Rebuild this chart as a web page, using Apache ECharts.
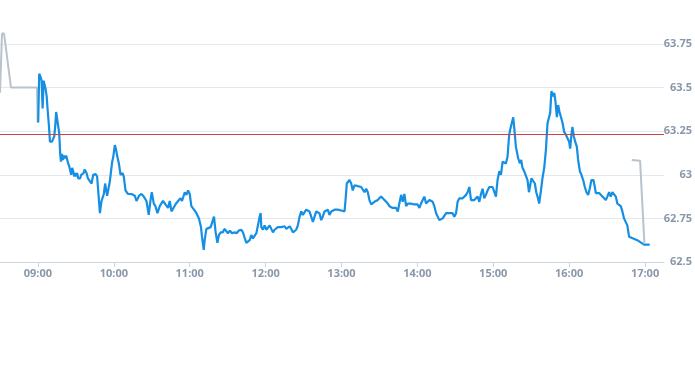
<!DOCTYPE html>
<html>
<head>
<meta charset="utf-8">
<script src="https://cdn.jsdelivr.net/npm/echarts@6/dist/echarts.min.js"></script>
<style>html,body{margin:0;padding:0;background:#fff}#c{width:695px;height:370px}</style>
</head>
<body>
<div id="c"></div>
<script>
// times are minutes since midnight
const preTimes = [510.0, 511.6, 513.2, 518.7, 539.2, 539.8];
const prePrices = [63.47, 63.81, 63.81, 63.50, 63.50, 63.30];

const mainTimes = [
540.2,541.0,542.1,542.9,543.7,544.5,545.3,546.1,546.9,547.7,548.7,549.5,550.3,551.1,552.1,552.9,553.7,554.4,555.2,556.0,
556.8,557.6,558.2,559.0,559.7,560.8,561.6,562.3,563.1,563.9,564.7,565.5,566.3,567.1,567.9,568.7,569.4,570.2,571.0,571.8,
572.6,573.4,574.2,575.3,576.1,576.9,577.7,578.4,579.5,580.5,
582.4,583.7,585.6,586.8,589.0,590.3,592.1,593.1,594.7,596.8,598.7,599.5,600.8,601.6,602.6,604.0,605.3,606.9,607.9,609.2,
611.1,614.0,616.6,617.9,620.0,621.9,623.7,625.8,627.6,629.0,630.0,631.6,632.9,634.5,636.3,638.9,640.8,642.9,644.2,645.6,
646.8,648.7,650.8,652.7,653.9,656.1,657.4,658.7,660.0,661.3,663.4,665.3,667.3,668.5,668.9,669.7,671.1,671.8,673.2,674.5,
676.6,677.9,679.2,680.5,681.9,683.1,684.5,686.1,687.6,689.0,690.2,691.8,693.4,695.5,697.1,698.7,700.8,702.1,703.4,704.8,
706.0,707.4,708.7,710.0,711.3,712.7,713.9,715.3,716.1,
716.6,717.9,719.2,720.6,721.8,723.2,724.5,725.8,727.1,728.5,729.7,731.1,732.4,733.7,735.0,736.4,737.6,739.0,740.3,741.6,
742.9,744.2,745.5,746.9,748.2,749.5,750.8,752.1,753.4,754.7,756.1,757.4,758.7,760.0,761.3,762.6,764.0,765.2,766.6,767.9,
769.2,770.5,771.9,773.1,774.5,775.8,777.1,778.4,779.8,781.0,782.4,783.2,784.2,785.0,
786.3,787.7,788.9,790.3,791.6,792.9,794.2,795.6,796.8,798.2,799.5,800.8,802.1,803.5,804.7,806.1,807.4,808.7,810.0,811.3,
812.6,814.0,815.3,816.6,817.9,819.2,820.5,821.9,823.2,824.5,825.8,827.1,828.4,829.7,831.1,832.4,833.7,835.0,836.3,837.6,
839.0,840.2,841.6,842.9,844.2,845.5,846.9,848.1,849.5,850.8,852.1,853.4,
854.8,856.0,857.4,858.7,860.0,861.3,862.7,863.9,865.3,866.6,867.9,869.2,870.6,871.8,873.2,874.5,875.8,877.1,878.5,879.7,
881.1,882.4,883.7,885.0,886.4,887.6,889.0,890.3,891.6,892.9,894.2,895.5,896.9,898.2,899.5,900.8,902.1,903.4,904.8,906.1,
907.4,908.7,910.0,911.3,912.6,913.4,914.8,915.8,916.6,917.9,918.7,919.7,921.1,
922.1,923.1,924.5,925.8,927.1,928.2,929.2,930.2,931.6,932.9,934.0,935.0,936.3,937.7,938.9,940.3,941.6,942.9,944.2,945.0,
946.0,947.1,948.2,949.2,950.3,951.3,952.4,953.5,954.7,956.1,957.4,958.7,960.0,960.8,961.8,962.6,963.7,964.8,966.1,967.1,
968.5,969.7,971.1,972.4,973.7,975.0,976.3,977.6,979.2,980.3,981.1,982.4,983.7,985.0,
986.3,987.6,989.0,990.2,991.6,992.9,994.2,995.5,996.9,998.1,999.5,1000.8,1002.1,1003.4,1004.8,1006.0,1007.4,1008.7,1013.9,1019.2,
1023.7
];
const mainPrices = [
63.30,63.58,63.56,63.54,63.38,63.54,63.55,63.49,63.45,63.37,63.28,63.19,63.20,63.19,63.19,63.22,63.28,63.36,63.37,63.28,
63.24,63.12,63.075,63.12,63.085,63.11,63.095,63.11,63.11,63.065,63.05,63.04,63.00,63.04,63.02,62.99,63.01,62.99,63.01,62.98,
62.99,62.98,63.00,62.99,63.01,63.03,63.02,63.01,62.98,62.97,
62.95,63.00,63.005,62.99,62.78,62.85,62.89,62.95,62.88,62.96,63.075,63.10,63.17,63.15,63.11,63.065,63.00,63.01,62.99,62.91,
62.89,62.89,62.88,62.85,62.88,62.89,62.875,62.85,62.77,62.855,62.90,62.835,62.82,62.78,62.82,62.85,62.83,62.81,62.85,62.79,
62.78,62.83,62.85,62.865,62.85,62.90,62.885,62.91,62.89,62.82,62.80,62.78,62.75,62.74,62.70,62.645,62.57,62.625,62.69,62.69,
62.70,62.71,62.76,62.67,62.61,62.655,62.67,62.67,62.69,62.685,62.665,62.68,62.665,62.67,62.665,62.68,62.685,62.67,62.64,62.61,
62.615,62.625,62.655,62.635,62.65,62.665,62.67,62.76,62.78,
62.70,62.685,62.71,62.685,62.69,62.71,62.69,62.67,62.685,62.69,62.70,62.71,62.70,62.70,62.705,62.69,62.70,62.705,62.69,62.67,
62.67,62.685,62.71,62.76,62.79,62.77,62.76,62.80,62.80,62.79,62.78,62.73,62.74,62.79,62.80,62.78,62.74,62.76,62.79,62.79,
62.80,62.77,62.79,62.80,62.80,62.80,62.80,62.80,62.795,62.79,62.79,62.855,62.95,62.96,
62.97,62.95,62.91,62.94,62.93,62.935,62.94,62.93,62.93,62.90,62.92,62.90,62.855,62.83,62.835,62.845,62.845,62.855,62.865,62.875,
62.865,62.855,62.845,62.835,62.82,62.81,62.81,62.80,62.81,62.79,62.80,62.885,62.845,62.89,62.82,62.835,62.845,62.835,62.84,62.83,
62.82,62.83,62.81,62.835,62.855,62.875,62.835,62.83,62.855,62.865,62.845,62.82,
62.78,62.77,62.74,62.73,62.75,62.76,62.78,62.79,62.78,62.77,62.78,62.76,62.78,62.845,62.865,62.855,62.865,62.875,62.885,62.90,
62.93,62.855,62.855,62.855,62.865,62.875,62.845,62.89,62.92,62.865,62.885,62.91,62.93,62.94,62.93,62.92,62.875,62.97,63.02,63.00,
63.075,63.085,63.065,63.105,63.23,63.26,63.27,63.33,63.27,63.16,63.15,63.095,63.065,
63.085,63.04,63.02,63.01,62.97,62.90,62.91,62.98,62.97,62.95,62.90,62.875,62.835,62.91,62.98,63.04,63.14,63.295,63.285,63.355,
63.48,63.45,63.47,63.42,63.33,63.40,63.36,63.36,63.30,63.245,63.23,63.21,63.19,63.15,63.23,63.275,63.22,63.19,63.16,63.085,
63.02,63.00,62.97,62.93,62.90,62.885,62.92,62.97,62.97,62.93,62.895,62.90,62.895,62.895,
62.875,62.885,62.855,62.875,62.90,62.875,62.90,62.91,62.875,62.835,62.83,62.82,62.79,62.75,62.74,62.71,62.645,62.635,62.625,62.60,
62.60
];

const postTimes = [1009.5, 1016.1, 1017.4, 1018.4, 1019.5];
const postPrices = [63.085, 63.08, 62.90, 62.895, 62.605];

const refPrice = 63.235;
const hourTicks = [540, 600, 660, 720, 780, 840, 900, 960, 1020];

const zip = (a, b) => a.map((t, i) => [t, b[i]]);
const fmtTime = v => {
  const h = Math.floor(v / 60), m = Math.round(v % 60);
  return String(h).padStart(2, '0') + ':' + String(m).padStart(2, '0');
};

const labelFont = { fontFamily: 'Open Sans', fontSize: 11, fontWeight: 'bold', color: '#8898aa' };

const chart = echarts.init(document.getElementById('c'), null, { renderer: 'canvas' });
chart.setOption({
  animation: false,
  grid: { left: 0, right: 30, top: 44, bottom: 108, containLabel: false },
  xAxis: {
    type: 'value', min: 510, max: 1035,
    axisLine: { lineStyle: { color: '#ccd5de', width: 1 } },
    axisTick: { show: true, length: 5, customValues: hourTicks, lineStyle: { color: '#ccd5de' } },
    axisLabel: Object.assign({ customValues: hourTicks, margin: 6, formatter: fmtTime }, labelFont),
    splitLine: { show: false }
  },
  yAxis: {
    type: 'value', position: 'right', min: 62.5, max: 63.75, interval: 0.25,
    axisLine: { show: false }, axisTick: { show: false },
    axisLabel: Object.assign({ align: 'right', margin: 28, formatter: v => String(+v.toFixed(2)) }, labelFont),
    splitLine: { lineStyle: { color: '#e4e8ec', width: 1 } }
  },
  series: [
    { type: 'line', data: zip(preTimes, prePrices), showSymbol: false, clip: false,
      lineStyle: { color: '#b8c3cc', width: 2 }, z: 3 },
    { type: 'line', data: zip(mainTimes, mainPrices), showSymbol: false, clip: false,
      lineStyle: { color: '#148fe3', width: 2.2 }, z: 3,
      markLine: { silent: true, symbol: 'none', label: { show: false },
        lineStyle: { color: '#d2403f', width: 1, type: 'solid' },
        data: [{ yAxis: refPrice }] } },
    { type: 'line', data: zip(postTimes, postPrices), showSymbol: false, clip: false,
      lineStyle: { color: '#b8c3cc', width: 2 }, z: 4 }
  ]
});
</script>
</body>
</html>
